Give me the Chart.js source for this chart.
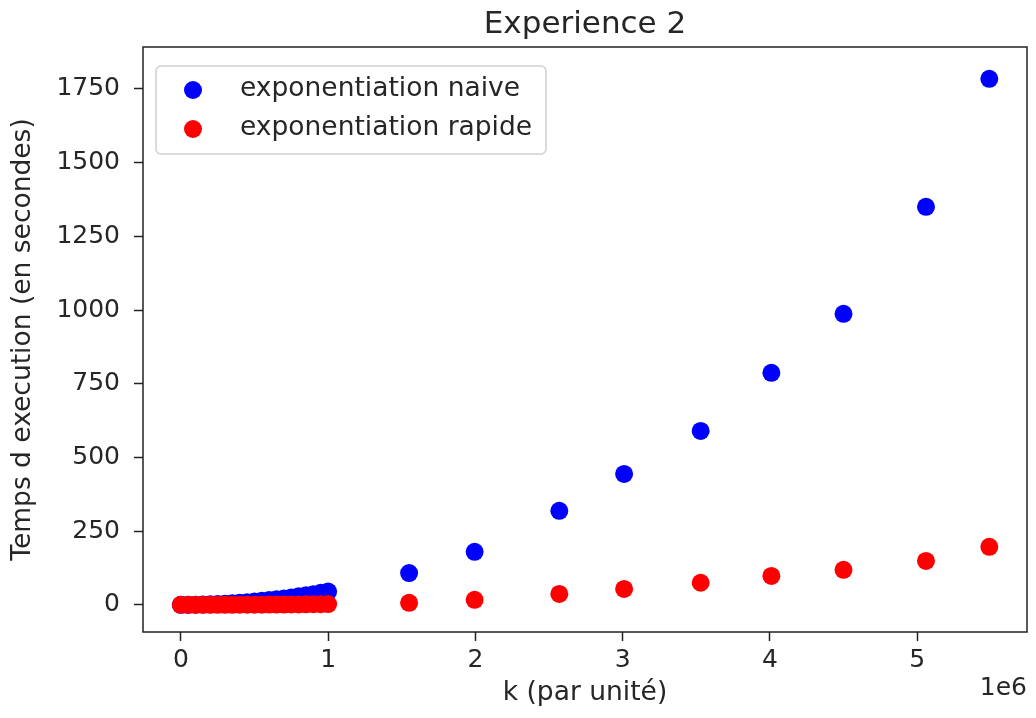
<!DOCTYPE html>
<html>
<head>
<meta charset="utf-8">
<script src="https://cdn.jsdelivr.net/npm/chart.js@4/dist/chart.umd.min.js"></script>
<style>
  html, body { margin: 0; padding: 0; background: white; overflow: hidden; }
  canvas { display: block; }
</style>
</head>
<body>
<canvas id="myChart" width="1036" height="718"></canvas>
<script>
// values (k in units, time in seconds)
const kValues = [0, 50000, 100000, 150000, 200000, 250000, 300000, 350000, 400000, 450000, 500000,
    550000, 600000, 650000, 700000, 750000, 800000, 850000, 900000, 950000, 1000000,
    1550000, 1995000, 2570000, 3010000, 3530000, 4010000, 4500000, 5060000, 5490000];
const naiveTimes = [0, 0.1, 0.5, 1.1, 1.9, 2.9, 4.1, 5.6, 7.3, 9.2, 11.4,
    13.8, 16.3, 19.2, 22.0, 25.4, 28.9, 32.6, 36.4, 40.8, 45.2,
    108, 180, 319, 444, 590, 787, 987, 1350, 1784];
const rapideTimes = [0, 0, 0, 0.1, 0.1, 0.2, 0.2, 0.3, 0.4, 0.5, 0.6,
    0.7, 0.9, 1.0, 1.2, 1.4, 1.6, 1.9, 2.1, 2.4, 2.7,
    7, 17, 37, 54, 75, 98, 119, 149, 197];
const xTicks = [0, 1000000, 2000000, 3000000, 4000000, 5000000];
const yTicks = [0, 250, 500, 750, 1000, 1250, 1500, 1750];
const seriesLabels = ['exponentiation naive', 'exponentiation rapide'];

const FONT = 'DejaVu Sans';
const TEXT_COLOR = '#262626';

function toPoints(ys) {
    return kValues.map((k, i) => ({ x: k, y: ys[i] }));
}

// frame, titles and legend box like matplotlib
const decorations = {
    id: 'decorations',
    afterDraw: (chart) => {
        const ctx = chart.ctx;
        const a = chart.chartArea;
        ctx.save();
        ctx.strokeStyle = '#222';
        ctx.lineWidth = 1.5;
        ctx.strokeRect(a.left, a.top, a.right - a.left, a.bottom - a.top);

        ctx.fillStyle = TEXT_COLOR;
        ctx.textAlign = 'center';
        ctx.textBaseline = 'middle';
        ctx.font = `31px "${FONT}"`;
        ctx.fillText('Experience 2', (a.left + a.right) / 2, 25);

        ctx.font = `26.5px "${FONT}"`;
        ctx.fillText('k (par unité)', (a.left + a.right) / 2, 693);
        ctx.textAlign = 'right';
        ctx.font = `25px "${FONT}"`;
        ctx.fillText('1e6', a.right, 688);

        ctx.save();
        ctx.font = `26.5px "${FONT}"`;
        ctx.translate(23, (a.top + a.bottom) / 2);
        ctx.rotate(-Math.PI / 2);
        ctx.textAlign = 'center';
        ctx.fillText('Temps d execution (en secondes)', 0, 0);
        ctx.restore();

        // legend
        const lx = a.left + 13, ly = a.top + 19, lw = 390, lh = 88;
        ctx.fillStyle = 'rgba(255,255,255,0.8)';
        ctx.strokeStyle = '#d0d0d0';
        ctx.lineWidth = 1.5;
        ctx.beginPath();
        ctx.roundRect(lx, ly, lw, lh, 5);
        ctx.fill();
        ctx.stroke();
        chart.data.datasets.forEach((ds, i) => {
            const cy = ly + 24 + i * 39;
            ctx.fillStyle = ds.backgroundColor;
            ctx.beginPath();
            ctx.arc(lx + 37, cy, 9, 0, Math.PI * 2);
            ctx.fill();
            ctx.fillStyle = TEXT_COLOR;
            ctx.textAlign = 'left';
            ctx.font = `26.5px "${FONT}"`;
            ctx.fillText(ds.label, lx + 84, cy - 1);
        });
        ctx.restore();
    }
};

const configuration = {
    type: 'scatter',
    data: {
        datasets: [{
            label: seriesLabels[0],
            data: toPoints(naiveTimes),
            backgroundColor: '#0000ff',
            borderWidth: 0,
            pointRadius: 9,
            order: 1
        }, {
            label: seriesLabels[1],
            data: toPoints(rapideTimes),
            backgroundColor: '#ff0000',
            borderWidth: 0,
            pointRadius: 9,
            order: 0
        }]
    },
    options: {
        responsive: false,
        animation: false,
        devicePixelRatio: 1,
        layout: { padding: { left: 0, top: 47, right: 4, bottom: 0 } },
        plugins: {
            legend: { display: false },
            title: { display: false },
            tooltip: { enabled: false }
        },
        scales: {
            x: {
                type: 'linear',
                min: -257000,
                max: 5746000,
                afterFit: (s) => {
                    s.height = 86;
                    s.paddingLeft = 0;
                    s.paddingRight = 0;
                },
                afterBuildTicks: (s) => { s.ticks = xTicks.map(v => ({ value: v })); },
                grid: { drawOnChartArea: false, tickLength: 9, color: '#222', tickWidth: 1.5 },
                border: { display: false },
                ticks: {
                    color: TEXT_COLOR,
                    font: { family: FONT, size: 25 },
                    padding: 4,
                    maxRotation: 0,
                    callback: (v) => String(v / 1000000)
                }
            },
            y: {
                min: -92,
                max: 1892,
                afterFit: (s) => {
                    s.width = 143;
                    s.paddingTop = 0;
                    s.paddingBottom = 0;
                },
                afterBuildTicks: (s) => { s.ticks = yTicks.map(v => ({ value: v })); },
                grid: { drawOnChartArea: false, tickLength: 9, color: '#222', tickWidth: 1.5 },
                border: { display: false },
                ticks: {
                    color: TEXT_COLOR,
                    font: { family: FONT, size: 25 },
                    padding: 14,
                    callback: (v) => String(v)
                }
            }
        }
    },
    plugins: [decorations]
};

new Chart(document.getElementById('myChart'), configuration);
</script>
</body>
</html>
